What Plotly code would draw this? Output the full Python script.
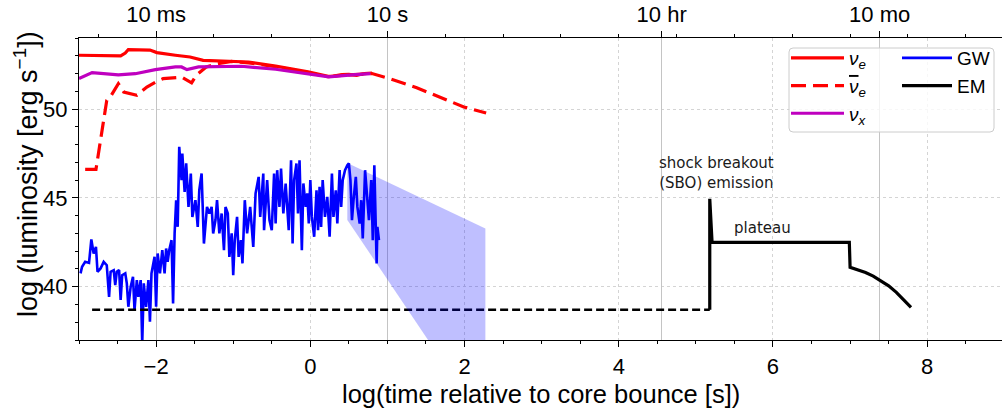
import numpy as np
import plotly.graph_objects as go

# ---------------- data (log10 time [s], log10 luminosity [erg/s]) ----------------
nue_t = [-3.0, -2.46, -2.40, -2.36, -2.08, -1.99, -1.75, -1.56, -1.39, -1.02, -0.80,
         -0.45, -0.03, 0.23, 0.30, 0.41, 0.50, 0.60, 0.70, 0.80]
nue_L = [53.03, 52.99, 53.15, 53.35, 53.32, 53.18, 53.03, 52.93, 52.74, 52.69, 52.65,
         52.42, 52.09, 51.84, 51.85, 51.94, 51.95, 51.90, 52.00, 52.03]

nuebar_t = [-2.92, -2.78, -2.64, -2.58, -2.49, -2.42, -2.25, -2.12, -1.99, -1.91, -1.67,
            -1.54, -1.48, -1.35, -1.20, -1.02, -0.80, -0.45, -0.03, 0.23, 0.41, 0.80,
            1.02, 1.38, 1.99, 2.28]
nuebar_L = [46.60, 46.60, 50.49, 50.78, 51.43, 50.96, 50.78, 51.24, 51.56, 51.71, 51.80,
            51.47, 51.90, 52.37, 52.55, 52.68, 52.60, 52.38, 52.05, 51.82, 51.90, 52.00,
            51.72, 51.20, 50.12, 49.78]

nux_t = [-3.0, -2.83, -2.49, -2.27, -2.01, -1.75, -1.67, -1.60, -1.45, -0.89, -0.45,
         -0.02, 0.24, 0.54, 0.78]
nux_L = [51.72, 52.05, 51.92, 51.99, 52.22, 52.37, 52.37, 52.22, 52.37, 52.41, 52.24,
         52.00, 51.81, 51.92, 52.00]

gw_t = [-2.98, -2.96, -2.92, -2.87, -2.84, -2.81, -2.78, -2.76, -2.72, -2.68, -2.64,
        -2.61, -2.59, -2.55, -2.53, -2.51, -2.48, -2.46, -2.44, -2.40, -2.38, -2.36,
        -2.33, -2.30, -2.28, -2.25, -2.23, -2.20, -2.18, -2.16, -2.13, -2.10, -2.08,
        -2.06, -2.02, -2.00, -1.98, -1.95, -1.92, -1.89, -1.87, -1.85, -1.83, -1.80,
        -1.78, -1.76, -1.74, -1.72, -1.70, -1.67, -1.66, -1.63, -1.61, -1.58, -1.55,
        -1.53, -1.49, -1.46, -1.44, -1.41, -1.38, -1.34, -1.31, -1.28, -1.26, -1.23,
        -1.21, -1.18, -1.15, -1.12, -1.10, -1.07, -1.05, -1.02, -1.00, -0.98, -0.95,
        -0.93, -0.90, -0.88, -0.85, -0.82, -0.78, -0.74, -0.71, -0.67, -0.65, -0.61,
        -0.60, -0.56, -0.53, -0.50, -0.47, -0.45, -0.43, -0.40, -0.38, -0.35, -0.32,
        -0.28, -0.25, -0.23, -0.21, -0.18, -0.16, -0.14, -0.11, -0.09, -0.06, -0.04,
        -0.02, 0.00, 0.02, 0.05, 0.08, 0.10, 0.12, 0.14, 0.16, 0.19, 0.22, 0.25,
        0.28, 0.30, 0.33, 0.35, 0.38, 0.40, 0.42, 0.45, 0.48, 0.50, 0.52, 0.54,
        0.56, 0.59, 0.61, 0.64, 0.66, 0.68, 0.71, 0.74, 0.76, 0.79, 0.81, 0.83,
        0.86, 0.87, 0.89]
gw_L = [40.75, 41.12, 41.40, 41.34, 42.66, 41.87, 42.24, 40.84, 41.03, 41.40, 41.21,
        39.43, 40.84, 40.93, 40.09, 40.84, 40.93, 39.25, 40.65, 40.75, 40.19, 38.87,
        39.99, 40.56, 38.68, 40.37, 39.43, 40.37, 36.80, 40.19, 38.87, 40.37, 38.03,
        40.75, 41.68, 38.87, 41.87, 40.75, 42.06, 40.75, 42.15, 41.40, 42.06, 42.62,
        39.06, 43.00, 44.87, 43.37, 47.87, 46.00, 47.50, 45.34, 46.94, 44.49, 46.37,
        43.93, 44.87, 43.37, 45.43, 46.37, 42.43, 44.49, 44.12, 44.49, 43.00, 43.75,
        44.87, 43.00, 44.12, 42.06, 44.49, 44.12, 41.68, 43.00, 40.65, 42.62, 43.93,
        41.68, 42.62, 41.31, 44.87, 43.00, 44.49, 42.24, 45.25, 46.18, 43.93, 46.37,
        43.18, 46.00, 43.75, 43.18, 46.37, 43.56, 46.56, 44.49, 46.65, 44.12, 45.81,
        43.18, 47.12, 42.43, 46.00, 46.94, 44.12, 47.12, 42.06, 45.81, 44.49, 45.25,
        43.56, 46.00, 43.93, 42.81, 45.43, 43.18, 45.62, 43.37, 46.00, 43.93, 45.06,
        42.81, 46.37, 43.93, 45.43, 43.56, 46.56, 44.49, 46.00, 46.56, 46.84, 46.94,
        46.00, 43.75, 44.87, 46.18, 44.49, 43.56, 44.87, 42.72, 46.56, 44.49, 43.75,
        46.00, 42.62, 46.84, 41.31, 43.37, 42.62]

band_t = [0.48, 2.27]
band_upper = [46.97, 43.28]
band_lower = [43.76, 32.20]

em_pre_t = [-2.83, 5.18]
em_pre_L = [38.70, 38.70]
em_t = [5.18, 5.18, 5.21, 6.99, 7.00, 7.10, 7.20, 7.30, 7.40, 7.50, 7.60, 7.70, 7.79]
em_L = [38.70, 44.95, 42.50, 42.50, 41.09, 40.95, 40.80, 40.60, 40.35, 40.05, 39.68, 39.27, 38.84]

top_tick_seconds = [1e-2, 1e1, 10 * 3600.0, 10 * 28 * 86400.0]
top_tick_labels = ["10 ms", "10 s", "10 hr", "10 mo"]
bottom_ticks = [-2, 0, 2, 4, 6, 8]
y_ticks = [40, 45, 50]

# ---------------- figure ----------------
W, H = 1002, 412
ML, MR, MT, MB = 79, 0, 38, 72
PW, PH = W - ML - MR, H - MT - MB
XR = [-3.0, 8.97]
YR = [37.0, 54.0]

FONT = "Liberation Sans, Arial, sans-serif"
ANN_FONT = "DejaVu Sans, sans-serif"

def px2paper_x(px):
    return (px - ML) / PW

def px2paper_y(py):
    return (H - MB - py) / PH

fig = go.Figure()

# GW uncertainty band
fig.add_trace(go.Scatter(
    x=band_t + band_t[::-1], y=band_upper + band_lower[::-1],
    fill="toself", fillcolor="rgba(0,0,255,0.25)", line=dict(width=0),
    mode="lines", showlegend=False, hoverinfo="skip", xaxis="x2"))

fig.add_trace(go.Scatter(x=nue_t, y=nue_L, mode="lines", name="<i>ν</i><sub><i>e</i></sub>",
                         line=dict(color="#ff0000", width=3.2), legend="legend", legendrank=1))
fig.add_trace(go.Scatter(x=nuebar_t, y=nuebar_L, mode="lines",
                         name="<span style='text-decoration:overline'><i>ν</i></span><sub><i>e</i></sub>",
                         line=dict(color="#ff0000", width=3.2, dash="15px,7px"),
                         legend="legend", legendrank=2))
fig.add_trace(go.Scatter(x=nux_t, y=nux_L, mode="lines", name="<i>ν</i><sub><i>x</i></sub>",
                         line=dict(color="#bf00bf", width=3.2), legend="legend", legendrank=3))
fig.add_trace(go.Scatter(x=gw_t, y=gw_L, mode="lines", name="GW",
                         line=dict(color="#0000ff", width=2.6), legend="legend2", legendrank=4))
fig.add_trace(go.Scatter(x=em_pre_t, y=em_pre_L, mode="lines", showlegend=False,
                         line=dict(color="#000000", width=2.5, dash="8px,4px")))
fig.add_trace(go.Scatter(x=em_t, y=em_L, mode="lines", name="EM",
                         line=dict(color="#000000", width=3.2), legend="legend2", legendrank=5))

axis_common = dict(showline=True, linecolor="black", linewidth=1.3, automargin=False,
                   ticks="outside", ticklen=6, tickwidth=1.2, tickcolor="black",
                   zeroline=False, tickfont=dict(family=FONT, size=22, color="black"))

fig.update_layout(
    width=W, height=H,
    margin=dict(l=ML, r=MR, t=MT, b=MB, pad=0, autoexpand=False),
    paper_bgcolor="white", plot_bgcolor="white",
    font=dict(family=FONT, color="black"),
    xaxis=dict(range=XR, tickmode="array", tickvals=bottom_ticks,
               showgrid=True, gridcolor="#d4d4d4", griddash="dot", gridwidth=1,
               minor=dict(dtick=0.5, tick0=0, ticks="outside", ticklen=3.3,
                          tickwidth=1, tickcolor="black", showgrid=False),
               **axis_common),
    xaxis2=dict(range=XR, overlaying="x", side="top", anchor="y",
                tickmode="array", tickvals=list(np.log10(top_tick_seconds)),
                ticktext=top_tick_labels,
                showgrid=True, gridcolor="#c4c4c4", gridwidth=1,
                minor=dict(tick0=-2.0, dtick=0.75, ticks="outside", ticklen=3.3,
                           tickwidth=1, tickcolor="black", showgrid=False),
                **axis_common),
    yaxis=dict(range=YR, tickmode="array", tickvals=y_ticks,
               showgrid=True, gridcolor="#d4d4d4", griddash="dot", gridwidth=1,
               minor=dict(dtick=1, tick0=37, ticks="outside", ticklen=3.3,
                          tickwidth=1, tickcolor="black", showgrid=False),
               **axis_common),
    legend=dict(x=px2paper_x(786), y=px2paper_y(39), xanchor="left", yanchor="top",
                bgcolor="rgba(0,0,0,0)", borderwidth=0,
                font=dict(family=FONT, size=19, color="black"), itemwidth=53,
                traceorder="normal"),
    legend2=dict(x=px2paper_x(897), y=px2paper_y(39), xanchor="left", yanchor="top",
                 bgcolor="rgba(0,0,0,0)", borderwidth=0,
                 font=dict(family=FONT, size=19, color="black"), itemwidth=50,
                 traceorder="normal"),
    showlegend=True,
)

# legend frame (rounded)
x0, x1 = px2paper_x(789), px2paper_x(994)
y0, y1 = px2paper_y(132), px2paper_y(48)
rx, ry = 4 / PW, 4 / PH
path = (f"M{x0+rx},{y0} L{x1-rx},{y0} Q{x1},{y0} {x1},{y0+ry} L{x1},{y1-ry} "
        f"Q{x1},{y1} {x1-rx},{y1} L{x0+rx},{y1} Q{x0},{y1} {x0},{y1-ry} "
        f"L{x0},{y0+ry} Q{x0},{y0} {x0+rx},{y0} Z")
fig.add_shape(type="path", path=path, xref="paper", yref="paper",
              line=dict(color="#cccccc", width=1), fillcolor="rgba(255,255,255,0.8)",
              layer="above")

# axis titles
fig.add_annotation(text="log(time relative to core bounce [s])", xref="paper", yref="paper",
                   x=0.5, y=px2paper_y(394), xanchor="center", yanchor="middle",
                   showarrow=False, font=dict(family=FONT, size=25.5, color="black"))
fig.add_annotation(text="log (luminosity [erg s<sup>−1</sup>])", xref="paper", yref="paper",
                   x=px2paper_x(26), y=px2paper_y(174), xanchor="center", yanchor="middle",
                   textangle=-90, showarrow=False,
                   font=dict(family=FONT, size=27, color="black"))

# text labels
fig.add_annotation(text="shock breakout<br>(SBO) emission", x=5.27, y=46.39,
                   xref="x", yref="y", showarrow=False, align="center",
                   font=dict(family=ANN_FONT, size=15, color="#1a1a1a"))
fig.add_annotation(text="plateau", x=5.86, y=43.30, xref="x", yref="y", showarrow=False,
                   font=dict(family=ANN_FONT, size=15, color="#1a1a1a"))

fig.write_html("out.html", config={"displayModeBar": False},
               post_script="document.body.style.margin='0px';document.body.style.padding='0px';")
